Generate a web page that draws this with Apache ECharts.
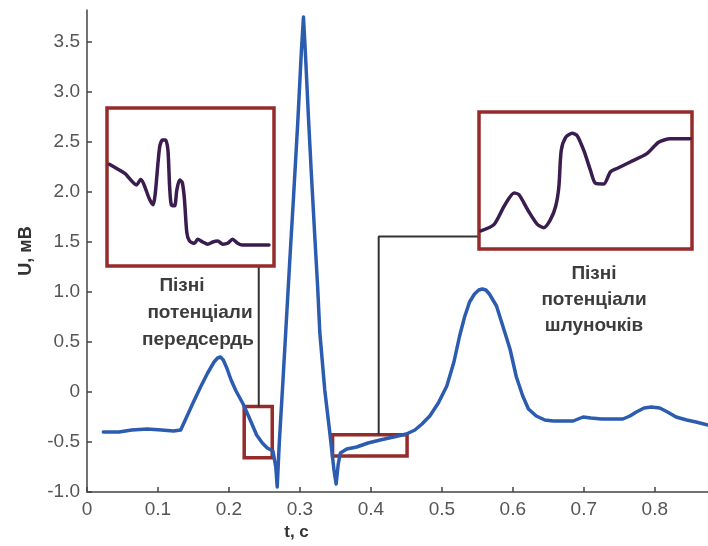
<!DOCTYPE html>
<html>
<head>
<meta charset="utf-8">
<script src="https://cdn.jsdelivr.net/npm/echarts@6/dist/echarts.min.js"></script>
<style>
  html, body { margin: 0; padding: 0; background: #fff; }
  #chart { width: 708px; height: 546px; }
</style>
</head>
<body>
<div id="chart"></div>
<script>
// ECG trace: time (s) and voltage (mV)
const timeSec = [0.023,0.045,0.063,0.085,0.105,0.122,0.132,0.141,0.150,0.160,0.170,0.179,0.184,0.188,0.192,0.197,0.203,0.210,0.220,0.230,0.239,0.247,0.254,0.262,0.266,0.268,0.271,0.276,0.280,0.286,0.291,0.297,0.302,0.305,0.308,0.312,0.316,0.321,0.325,0.328,0.335,0.342,0.348,0.351,0.354,0.357,0.366,0.380,0.396,0.413,0.432,0.450,0.462,0.472,0.483,0.495,0.507,0.517,0.525,0.532,0.539,0.546,0.552,0.557,0.562,0.567,0.572,0.577,0.585,0.596,0.605,0.614,0.622,0.633,0.645,0.657,0.670,0.685,0.699,0.710,0.725,0.740,0.755,0.765,0.774,0.785,0.795,0.807,0.818,0.830,0.845,0.858,0.875];
const voltageMv = [-0.40,-0.40,-0.38,-0.37,-0.38,-0.39,-0.38,-0.24,-0.10,0.05,0.19,0.30,0.34,0.35,0.32,0.24,0.12,0.01,-0.12,-0.28,-0.43,-0.51,-0.56,-0.59,-0.75,-0.95,-0.50,0.10,0.60,1.35,1.95,2.70,3.40,3.75,3.35,2.75,2.20,1.55,1.05,0.60,0.02,-0.40,-0.78,-0.92,-0.72,-0.61,-0.57,-0.55,-0.51,-0.48,-0.45,-0.42,-0.38,-0.32,-0.24,-0.11,0.06,0.30,0.56,0.75,0.90,0.98,1.02,1.03,1.02,0.98,0.92,0.86,0.68,0.43,0.15,-0.04,-0.17,-0.24,-0.28,-0.29,-0.29,-0.29,-0.25,-0.26,-0.27,-0.27,-0.27,-0.24,-0.20,-0.16,-0.15,-0.16,-0.20,-0.25,-0.28,-0.30,-0.33];

// Axis ticks
const xTicks = [0, 0.1, 0.2, 0.3, 0.4, 0.5, 0.6, 0.7, 0.8];
const yTicks = [-1.0, -0.5, 0, 0.5, 1.0, 1.5, 2.0, 2.5, 3.0, 3.5];

// Zoomed segments (magnified, relative units 0..100)
const atrialX = [1.4,5.8,10.7,17.7,20.1,25.6,27.6,31.5,33.2,35.1,36.5,37.5,38.5,40.5,41.8,43.5,45.1,46.4,47.8,49.4,52.4,54.3,57.3,60.3,63.3,66.3,69.3,72.2,75.2,78.2,81.1,97.0];
const atrialY = [64.4,61.7,58.6,51.3,54.8,41.9,38.8,75.2,79.8,79.8,73.1,50.2,38.8,38.1,48.1,54.4,52.7,41.9,21.1,15.8,14.4,16.9,15.2,13.8,15.2,15.8,13.8,14.4,16.9,14.4,13.3,13.3];
const ventricularX = [0.9,7.1,11.8,16.5,18.8,22.8,27.4,30.5,33.6,36.0,37.5,38.6,40.7,43.8,46.1,49.2,52.3,54.7,58.6,61.7,64.8,71.0,78.8,84.3,89.7,99.1];
const ventricularY = [13.2,18.0,31.2,40.8,39.6,28.8,18.0,15.6,21.6,31.2,45.5,71.9,81.5,84.4,82.7,71.9,57.6,48.0,47.5,56.3,58.8,63.5,69.6,77.9,80.4,80.4];

// Highlighted regions on the trace [t0, u0, t1, u1]
const atrialWindow = [0.2215, -0.146, 0.261, -0.657];
const ventricularWindow = [0.346, -0.428, 0.451, -0.640];

// Leader lines from the regions to the zoomed views (t, U)
const atrialLeader = [[0.242, -0.146], [0.242, 1.255]];
const ventricularLeader = [[0.411, -0.428], [0.411, 1.554], [0.552, 1.554]];

const BLUE = '#2b5cb0';
const BOX = '#962b2b';
const INSET_LINE = '#3a1d4e';
const AXIS = '#444';
const FONT = 'Liberation Sans, Arial, sans-serif';

const zip = (a, b) => a.map((v, i) => [v, b[i]]);

const chart = echarts.init(document.getElementById('chart'), null, { renderer: 'canvas' });

const hiddenAxis = (g) => ({ gridIndex: g, type: 'value', min: 0, max: 100, show: false });

const option = {
  animation: false,
  backgroundColor: '#fff',
  grid: [
    { left: 87, right: 0, top: 10, bottom: 52 },
    { left: 107, top: 108, width: 167, height: 158, show: true, backgroundColor: '#fff', borderColor: BOX, borderWidth: 3.5, z: 3 },
    { left: 479, top: 112, width: 213, height: 137, show: true, backgroundColor: '#fff', borderColor: BOX, borderWidth: 3.5, z: 3 }
  ],
  xAxis: [
    {
      gridIndex: 0, type: 'value', min: 0, max: 0.875,
      axisLine: { show: true, onZero: false, lineStyle: { color: AXIS, width: 1.5 } },
      axisTick: { show: true, inside: true, length: 5, customValues: xTicks, lineStyle: { color: AXIS, width: 1.5 } },
      axisLabel: { customValues: xTicks, margin: 8, color: '#555', fontSize: 19, fontFamily: FONT,
        formatter: v => (v === 0 ? '0' : String(+v.toFixed(1))) },
      splitLine: { show: false },
      name: 't, c', nameLocation: 'middle', nameGap: 32,
      nameTextStyle: { fontSize: 17, fontWeight: 'bold', color: '#333', fontFamily: FONT, padding: [0, 202, 0, 0] }
    },
    hiddenAxis(1), hiddenAxis(2)
  ],
  yAxis: [
    {
      gridIndex: 0, type: 'value', min: -1.0, max: 3.82,
      axisLine: { show: true, onZero: false, lineStyle: { color: AXIS, width: 1.5 } },
      axisTick: { show: true, inside: true, length: 5, customValues: yTicks, lineStyle: { color: AXIS, width: 1.5 } },
      axisLabel: { customValues: yTicks, margin: 7, color: '#555', fontSize: 19, fontFamily: FONT,
        formatter: v => (Math.abs(v) < 1e-9 ? '0' : v.toFixed(1)) },
      splitLine: { show: false },
      name: 'U, мВ', nameLocation: 'middle', nameGap: 52,
      nameTextStyle: { fontSize: 18, fontWeight: 'bold', color: '#333', fontFamily: FONT }
    },
    hiddenAxis(1), hiddenAxis(2)
  ],
  series: [
    {
      name: 'ЕКГ', type: 'line', xAxisIndex: 0, yAxisIndex: 0,
      data: zip(timeSec, voltageMv), showSymbol: false, symbol: 'none',
      lineStyle: { color: BLUE, width: 3.5, join: 'round', cap: 'round' }, z: 2,
      markArea: {
        silent: true,
        itemStyle: { color: 'rgba(0,0,0,0)', borderColor: BOX, borderWidth: 3.5 },
        label: { show: false },
        data: [
          [{ xAxis: atrialWindow[0], yAxis: atrialWindow[1] }, { xAxis: atrialWindow[2], yAxis: atrialWindow[3] }],
          [{ xAxis: ventricularWindow[0], yAxis: ventricularWindow[1] }, { xAxis: ventricularWindow[2], yAxis: ventricularWindow[3] }]
        ]
      }
    },
    {
      type: 'line', xAxisIndex: 0, yAxisIndex: 0, data: atrialLeader, symbol: 'none',
      lineStyle: { color: '#333', width: 2 }, z: 1
    },
    {
      type: 'line', xAxisIndex: 0, yAxisIndex: 0, data: ventricularLeader, symbol: 'none',
      lineStyle: { color: '#333', width: 2 }, z: 1
    },
    {
      type: 'line', xAxisIndex: 1, yAxisIndex: 1, data: zip(atrialX, atrialY), symbol: 'none',
      smooth: 0.25, lineStyle: { color: INSET_LINE, width: 3.5, join: 'round', cap: 'round' }, z: 5
    },
    {
      type: 'line', xAxisIndex: 2, yAxisIndex: 2, data: zip(ventricularX, ventricularY), symbol: 'none',
      smooth: 0.25, lineStyle: { color: INSET_LINE, width: 3.5, join: 'round', cap: 'round' }, z: 5
    }
  ],
  graphic: [
    { type: 'text', x: 182, y: 286, style: { text: 'Пізні', fill: '#3c3c3c', font: 'bold 19px ' + FONT, align: 'center', verticalAlign: 'middle' } },
    { type: 'text', x: 200, y: 313, style: { text: 'потенціали', fill: '#3c3c3c', font: 'bold 19px ' + FONT, align: 'center', verticalAlign: 'middle' } },
    { type: 'text', x: 198, y: 340, style: { text: 'передсердь', fill: '#3c3c3c', font: 'bold 19px ' + FONT, align: 'center', verticalAlign: 'middle' } },
    { type: 'text', x: 594, y: 274, style: { text: 'Пізні', fill: '#3c3c3c', font: 'bold 19px ' + FONT, align: 'center', verticalAlign: 'middle' } },
    { type: 'text', x: 594, y: 300, style: { text: 'потенціали', fill: '#3c3c3c', font: 'bold 19px ' + FONT, align: 'center', verticalAlign: 'middle' } },
    { type: 'text', x: 594, y: 326, style: { text: 'шлуночків', fill: '#3c3c3c', font: 'bold 19px ' + FONT, align: 'center', verticalAlign: 'middle' } }
  ]
};

chart.setOption(option);
</script>
</body>
</html>
